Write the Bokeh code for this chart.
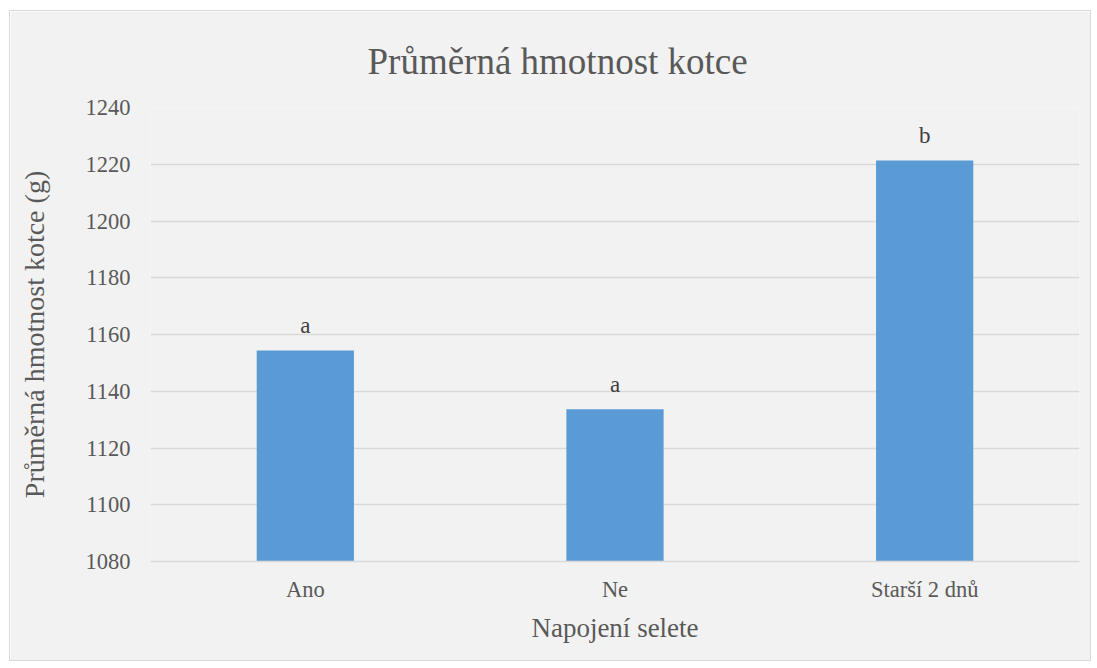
from bokeh.plotting import figure
from bokeh.models import ColumnDataSource, FixedTicker
from bokeh.core.properties import value
from bokeh.embed import file_html
from bokeh.resources import INLINE

categories = ["Ano", "Ne", "Starší 2 dnů"]
weights = [1154.4, 1133.7, 1221.3]
letters = ["a", "a", "b"]
y_ticks = [1080, 1100, 1120, 1140, 1160, 1180, 1200, 1220, 1240]

FONT = "'Liberation Serif', serif"
TXT = "#595959"

src = ColumnDataSource(dict(cat=categories, w=weights, lab=letters))

p = figure(x_range=categories, y_range=(1080, 1240), width=1082, height=651,
           output_backend="svg", toolbar_location=None,
           title="Průměrná hmotnost kotce",
           min_border_left=140, min_border_right=13,
           min_border_top=96, min_border_bottom=101)
p.styles = {"border": "1px solid #d9d9d9", "box-sizing": "border-box",
            "margin-left": "9px", "margin-top": "10px"}
p.background_fill_color = "#f2f2f2"
p.border_fill_color = "#f2f2f2"
p.outline_line_color = None

p.title.align = "left"
p.title.offset = 217
p.title.text_font = FONT
p.title.text_font_size = "37px"
p.title.text_font_style = "normal"
p.title.text_color = TXT
p.title.standoff = 52

p.vbar(x="cat", top="w", bottom=1080, width=0.314, source=src,
       fill_color="#5b9bd5", line_color=None)
p.text(x="cat", y="w", text="lab", source=src, text_align="center",
       text_baseline="alphabetic", y_offset=-25, text_font=value(FONT),
       text_font_size="23px", text_color="#404040")

p.yaxis.ticker = FixedTicker(ticks=y_ticks)
p.xgrid.grid_line_color = None
p.ygrid.grid_line_color = "#d9d9d9"
p.ygrid.grid_line_width = 1.5

for ax in (p.xaxis, p.yaxis):
    ax.major_tick_line_color = None
    ax.minor_tick_line_color = None
    ax.major_label_text_font = FONT
    ax.major_label_text_color = TXT
    ax.major_label_text_font_size = "22.5px"
    ax.axis_label_text_font = FONT
    ax.axis_label_text_color = TXT
    ax.axis_label_text_font_style = "normal"

p.yaxis.axis_label_text_font_size = "28px"
p.xaxis.axis_label_text_font_size = "27px"
p.yaxis.axis_line_color = None
p.xaxis.axis_line_color = "#d9d9d9"
p.xaxis.axis_line_width = 1.5
p.yaxis.axis_label = "Průměrná hmotnost kotce (g)"
p.xaxis.axis_label = "Napojení selete"
p.yaxis.major_label_standoff = 14
p.yaxis.axis_label_standoff = 33
p.xaxis.major_label_standoff = 9
p.xaxis.axis_label_standoff = 8

open("out.html", "w").write(file_html(p, INLINE))
